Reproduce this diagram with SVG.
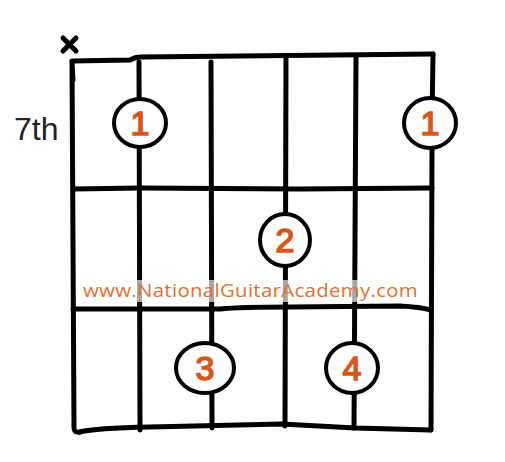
<svg xmlns="http://www.w3.org/2000/svg" width="505" height="462" viewBox="0 0 505 462">
<style>
.ln{fill:none;stroke:#000;stroke-width:5;stroke-linecap:round;stroke-linejoin:round}
.dot{fill:#fff;stroke:#000;stroke-width:4}
.num{font-family:"Liberation Sans",Arial,sans-serif;font-size:34px;fill:#D9561A;stroke:#D9561A;stroke-width:1.6;text-anchor:middle}
.lbl{font-family:"Liberation Sans",Arial,sans-serif;font-size:32px;fill:#222}
.wm{font-family:"Open Sans","Liberation Sans",sans-serif;font-size:19px;fill:#E2702F;letter-spacing:0.3px}
</style>
<rect width="505" height="462" fill="#fff"/>
<g id="grid">
<path class="ln" d="M72,61 L130,60 Q135,57 141,57 L433,54"/>
<path class="ln" d="M433,54 L432,120 M432,150 L431,430"/>
<path class="ln" d="M72,62 L73,80 M72,62 L74,428 Q74,433 80,432"/>
<path class="ln" d="M80,432 Q95,428 150,427 L282,424 Q300,425 355,428 L431,430"/>
<path class="ln" d="M139,62 L140,430"/>
<path class="ln" d="M211,62 L212,428"/>
<path class="ln" d="M286,58 L285,426"/>
<path class="ln" d="M356,56 L354,428"/>
<path class="ln" d="M73,189 L140,188 L300,189 L432,188"/>
<path class="ln" d="M73,309 L220,309 Q240,307 290,307 L400,306 Q420,307 431,310"/>
</g>
<g id="mute"><path class="ln" d="M63,38 L76,51 M76,38 L63,51" stroke-width="4"/></g>
<g id="fret-label"><text class="lbl" x="14" y="140">7th</text></g>
<g id="watermark">
<rect x="80" y="280" width="340" height="22" fill="#fff" opacity="0.65"/>
<text class="wm" x="83" y="297" textLength="335" lengthAdjust="spacingAndGlyphs">www.NationalGuitarAcademy.com</text>
</g>
<g id="f1a"><ellipse class="dot" cx="140" cy="123" rx="26" ry="24"/><text class="num" x="140" y="135">1</text></g>
<g id="f1b"><ellipse class="dot" cx="430" cy="123" rx="26" ry="25"/><text class="num" x="430" y="135">1</text></g>
<g id="f2"><ellipse class="dot" cx="285" cy="240" rx="25" ry="26"/><text class="num" x="285" y="252">2</text></g>
<g id="f3"><ellipse class="dot" cx="205" cy="368" rx="29" ry="25"/><text class="num" x="205" y="380">3</text></g>
<g id="f4"><ellipse class="dot" cx="352" cy="368" rx="26" ry="25"/><text class="num" x="352" y="380">4</text></g>
</svg>
